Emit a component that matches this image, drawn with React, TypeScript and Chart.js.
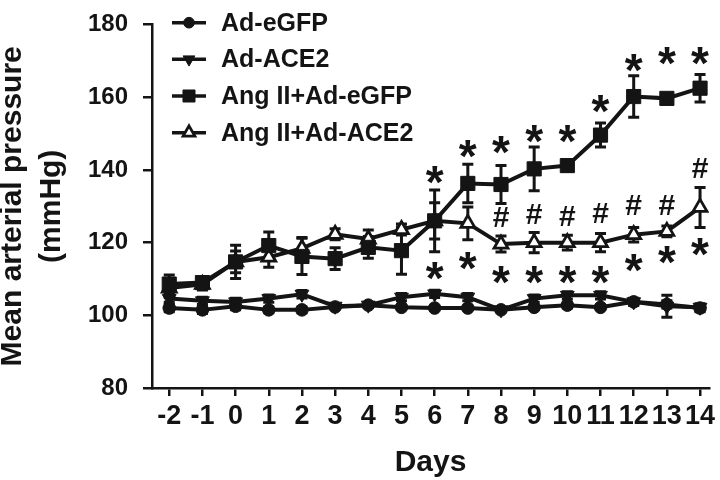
import React, { useEffect, useRef } from 'react';
import { Chart, registerables } from 'chart.js';
import { drawPoint } from 'chart.js/helpers';

Chart.register(...registerables);

// ---- data ----
const days = [-2, -1, 0, 1, 2, 3, 4, 5, 6, 7, 8, 9, 10, 11, 12, 13, 14];
const seriesNames = ['Ad-eGFP', 'Ad-ACE2', 'Ang II+Ad-eGFP', 'Ang II+Ad-ACE2'];

const adEGFP = [102, 101.5, 102.5, 101.5, 101.5, 102.3, 102.8, 102.2, 102, 102, 101.5, 102.2, 102.8, 102.2, 103.7, 103, 102];
const adEGFPErr = [1, 1, 1, 0.8, 0.8, 0.5, 0.5, 0.5, 0.5, 0.5, 0.5, 0.5, 0.8, 0.5, 0.8, 1, 1];

const adACE2 = [104.6, 104, 103.7, 104.6, 105.8, 102.5, 102.8, 105, 105.9, 105, 101.5, 104.6, 105.5, 105.5, 103.7, 102.5, 102.2];
const adACE2Err = [1, 1, 1, 1, 1, 0.5, 0.5, 1, 1, 1, 0.5, 1, 1, 1, 1, 3, 1];

const angEGFP = [108.6, 109, 114.7, 119.2, 116.2, 115.6, 118.7, 117.8, 126, 136.3, 136, 140.3, 141.2, 149.6, 160.2, 159.7, 162.5];
const angEGFPErr = [2.5, 1.5, 4.6, 3.7, 5, 3, 3, 6.5, 8.5, 5.3, 5.2, 6, 1.5, 3.3, 5.7, 1.2, 3.8];

const angACE2 = [107.5, 108.5, 114.7, 116, 118.4, 122.3, 121, 123.6, 126, 125.3, 119.6, 120, 120, 120, 122.2, 123.1, 129.7];
const angACE2Err = [2.5, 1.5, 3, 2.8, 3, 1.5, 2.5, 1.5, 5, 4.5, 2.2, 2.8, 2, 2.5, 2, 1.5, 5.5];

const yTicks = [80, 100, 120, 140, 160, 180];

// significance marks (day, y-value in mmHg)
const starTopDays = [6, 7, 8, 9, 10, 11, 12, 13, 14];
const starTopY = [139.4, 146.6, 147.5, 150.6, 150.6, 158.8, 170.3, 172.1, 172.1];
const starBottomDays = [6, 7, 8, 9, 10, 11, 12, 13, 14];
const starBottomY = [113, 115.6, 111.9, 111.9, 111.9, 111.9, 115.2, 117.4, 119.6];
const hashDays = [8, 9, 10, 11, 12, 13, 14];
const hashY = [127.1, 128, 127.6, 128.2, 130.4, 130.6, 140.8];

// ---- style ----
const INK = '#141414';
const FONT = "'Liberation Sans', Arial, Helvetica, sans-serif";

const values = [adEGFP, adACE2, angEGFP, angACE2];
const errors = [adEGFPErr, adACE2Err, angEGFPErr, angACE2Err];
const markers = [
  { pointStyle: 'circle', rotation: 0, radius: 6.3, fill: INK, borderWidth: 1 },
  { pointStyle: 'triangle', rotation: 180, radius: 8, fill: INK, borderWidth: 1 },
  { pointStyle: 'rect', rotation: 0, radius: 10, fill: INK, borderWidth: 1 },
  { pointStyle: 'triangle', rotation: 0, radius: 8, fill: '#ffffff', borderWidth: 2.8 },
];

const errorBarPlugin = {
  id: 'errorBars',
  beforeDatasetsDraw(chart: any) {
    const { ctx, scales } = chart;
    const xs = scales.x;
    const ys = scales.y;
    ctx.save();
    ctx.strokeStyle = INK;
    ctx.lineWidth = 3;
    errors.forEach((errs, si) => {
      errs.forEach((e, i) => {
        const x = xs.getPixelForValue(days[i]);
        const v = values[si][i];
        const yt = ys.getPixelForValue(v + e);
        const yb = ys.getPixelForValue(v - e);
        ctx.beginPath();
        ctx.moveTo(x, yt);
        ctx.lineTo(x, yb);
        ctx.moveTo(x - 5.5, yt);
        ctx.lineTo(x + 5.5, yt);
        ctx.moveTo(x - 5.5, yb);
        ctx.lineTo(x + 5.5, yb);
        ctx.stroke();
      });
    });
    ctx.restore();
  },
};

const marksPlugin = {
  id: 'marks',
  afterDatasetsDraw(chart: any) {
    const { ctx, scales } = chart;
    const xs = scales.x;
    const ys = scales.y;
    ctx.save();
    ctx.fillStyle = INK;
    ctx.textAlign = 'center';
    ctx.textBaseline = 'alphabetic';
    const starSize = 46;
    ctx.font = `bold ${starSize}px ${FONT}`;
    const drawStar = (d: number, v: number) => {
      ctx.fillText('*', xs.getPixelForValue(d), ys.getPixelForValue(v) + 0.56 * starSize);
    };
    starTopDays.forEach((d, i) => drawStar(d, starTopY[i]));
    starBottomDays.forEach((d, i) => drawStar(d, starBottomY[i]));
    const hashSize = 30;
    ctx.font = `bold ${hashSize}px ${FONT}`;
    hashDays.forEach((d, i) => {
      ctx.fillText('#', xs.getPixelForValue(d), ys.getPixelForValue(hashY[i]) + 0.35 * hashSize);
    });
    ctx.restore();
  },
};

const legendPlugin = {
  id: 'insideLegend',
  afterDraw(chart: any) {
    const { ctx } = chart;
    ctx.save();
    const rowY = [22.7, 59.3, 96, 132.7];
    seriesNames.forEach((name, i) => {
      const y = rowY[i];
      ctx.strokeStyle = INK;
      ctx.lineWidth = 3.5;
      ctx.beginPath();
      ctx.moveTo(172, y);
      ctx.lineTo(206, y);
      ctx.stroke();
      const m = markers[i];
      ctx.fillStyle = m.fill;
      ctx.strokeStyle = INK;
      ctx.lineWidth = m.borderWidth;
      drawPoint(ctx, { pointStyle: m.pointStyle as any, rotation: m.rotation, radius: m.radius * 0.85, borderWidth: m.borderWidth }, 189, y);
      ctx.fillStyle = INK;
      ctx.font = `bold 25px ${FONT}`;
      ctx.textAlign = 'left';
      ctx.textBaseline = 'middle';
      ctx.fillText(name, 221, y + 1);
    });
    ctx.restore();
  },
};

export default function App() {
  const ref = useRef<HTMLCanvasElement>(null);
  useEffect(() => {
    const canvas = ref.current;
    if (!canvas) return;
    const datasets = seriesNames.map((name, si) => {
      const m = markers[si];
      return {
        label: name,
        data: days.map((d, i) => ({ x: d, y: values[si][i] })),
        borderColor: INK,
        borderWidth: 4,
        tension: 0,
        fill: false,
        pointStyle: m.pointStyle,
        pointRotation: m.rotation,
        pointRadius: m.radius,
        pointBackgroundColor: m.fill,
        pointBorderColor: INK,
        pointBorderWidth: m.borderWidth,
      };
    });
    const tickFont = (size: number, lh = 1.2) => ({ family: FONT, size, weight: 'bold' as const, lineHeight: lh });
    const chart = new Chart(canvas, {
      type: 'line',
      data: { datasets: datasets as any },
      options: {
        responsive: false,
        animation: false,
        devicePixelRatio: 1,
        layout: { padding: { left: 0, right: 8, top: 10, bottom: 0 } },
        plugins: { legend: { display: false }, tooltip: { enabled: false } },
        scales: {
          x: {
            type: 'linear',
            min: -2.52,
            max: 14.27,
            afterBuildTicks: (s: any) => {
              s.ticks = days.map((v) => ({ value: v }));
            },
            afterFit: (s: any) => {
              s.height = 92;
            },
            grid: { drawOnChartArea: false, drawTicks: true, tickLength: 8, color: INK, lineWidth: 2.5 },
            border: { display: true, color: INK, width: 2.5 },
            ticks: { color: INK, font: tickFont(27), padding: 4, maxRotation: 0, autoSkip: false },
            title: { display: true, text: 'Days', color: INK, font: tickFont(30), padding: { top: 0, bottom: -1 } },
          },
          y: {
            min: 80,
            max: 180,
            afterBuildTicks: (s: any) => {
              s.ticks = yTicks.map((v) => ({ value: v }));
            },
            afterFit: (s: any) => {
              s.width = 152;
            },
            grid: { drawOnChartArea: false, drawTicks: true, tickLength: 9, color: INK, lineWidth: 2.5 },
            border: { display: true, color: INK, width: 2.5 },
            ticks: { color: INK, font: tickFont(24, 0.8), padding: 15 },
            title: {
              display: true,
              text: ['Mean arterial pressure', '(mmHg)'],
              color: INK,
              font: tickFont(30, 1.3),
              padding: { top: -7, bottom: 0 },
            },
          },
        },
      } as any,
      plugins: [errorBarPlugin, marksPlugin, legendPlugin],
    });
    return () => chart.destroy();
  }, []);
  return (
    <div style={{ position: 'fixed', left: 0, top: 0, width: 720, height: 480, background: '#ffffff' }}>
      <canvas ref={ref} width={720} height={480} style={{ display: 'block', width: 720, height: 480 }} />
    </div>
  );
}
